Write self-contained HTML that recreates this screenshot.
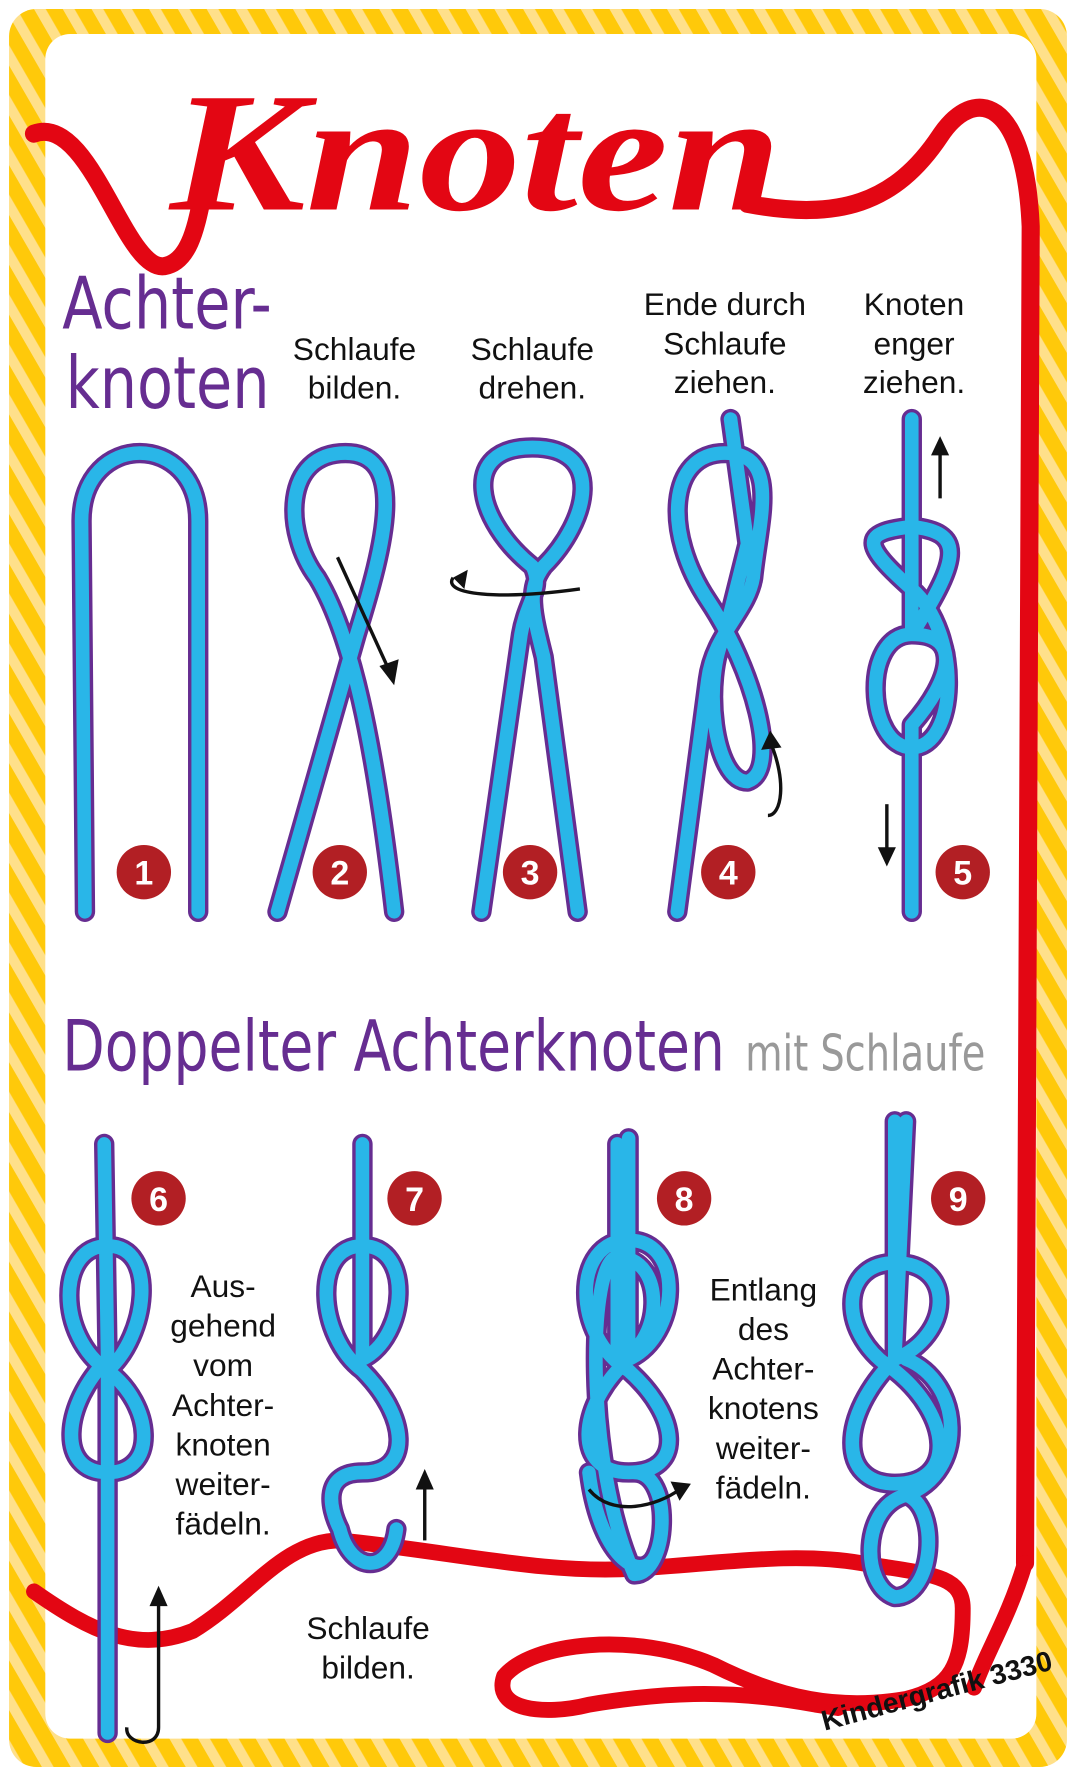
<!DOCTYPE html>
<html><head><meta charset="utf-8"><style>
html,body{margin:0;padding:0;background:#fff}
svg{display:block}
.t{font-family:"Liberation Sans",sans-serif;font-size:28px;fill:#111;text-anchor:middle}
.h{font-family:"DejaVu Sans Condensed","Liberation Sans Narrow",sans-serif;fill:#662d91}
.n{font-family:"Liberation Sans",sans-serif;font-weight:bold;font-size:30px;fill:#fff;text-anchor:middle}
</style></head><body>
<svg width="1076" height="1776" viewBox="0 0 950 1568" preserveAspectRatio="none" xmlns="http://www.w3.org/2000/svg">
<defs>
<pattern id="st" width="22" height="22" patternUnits="userSpaceOnUse" patternTransform="rotate(-30)">
<rect width="22" height="22" fill="#ffc90a"/><rect width="9" height="22" fill="#ffe08a"/>
</pattern>
<g id="ropes">
<path d="M75,805 L72,460 C72,380 175,380 175,460 L175,805"/>
<path d="M245,805 L315,560 C340,480 360,400 305,400 C250,400 250,470 280,510 C310,560 330,650 348,805"/>
<path d="M425,805 L460,560 C465,530 480,520 470,500 C420,460 405,395 470,395 C535,395 520,460 480,500 C465,520 470,540 480,580 L510,805"/>
<path d="M598,805 L625,600 C630,560 660,540 665,510 C670,460 690,400 640,400 C590,400 585,470 625,530 C665,590 690,680 660,690 C630,690 620,600 640,560 L660,480 L645,370"/>
<path d="M805,805 L805,640 C840,600 850,560 805,560 C760,560 765,660 805,660 C845,660 850,560 805,520 C760,480 760,470 805,465 C850,470 850,490 805,560 L805,370"/>
<path d="M95,1530 L95,1210 C130,1180 140,1100 95,1100 C50,1100 50,1180 95,1210 C135,1240 140,1300 95,1300 C50,1300 55,1240 95,1200 L92,1010"/>
<path d="M320,1010 L320,1200 C360,1180 365,1100 320,1100 C275,1100 280,1180 320,1210 C360,1250 365,1300 320,1300 C285,1300 290,1330 300,1350 C310,1390 345,1390 350,1350"/>
<path d="M555,1005 L555,1200 C600,1180 605,1095 555,1095 C505,1095 505,1180 555,1210 C600,1250 605,1300 555,1300 C505,1300 510,1240 555,1200 M545,1010 L545,1200 C585,1190 590,1110 545,1110 C520,1110 515,1290 560,1390 C590,1390 595,1300 560,1300 M520,1300 C530,1380 570,1400 580,1370"/>
<path d="M790,990 L790,1200 C840,1180 845,1115 790,1115 C740,1115 740,1180 790,1210 C840,1250 845,1310 790,1310 C740,1310 740,1250 790,1200 L800,990 M800,1200 C850,1220 855,1300 800,1320 C760,1330 760,1400 790,1410 C825,1410 830,1330 800,1320"/>
</g>
</defs>
<rect x="8" y="8" width="934" height="1552" rx="24" fill="url(#st)"/>
<rect x="40" y="30" width="875" height="1505" rx="22" fill="#fff"/>

<g fill="none" stroke="#e30613" stroke-linecap="round" stroke-linejoin="round">
<path stroke-width="16" d="M30,118 C80,100 110,240 145,235 C175,230 175,175 185,150"/>
<path stroke-width="16" d="M660,180 C740,195 790,180 830,120 C860,75 905,85 910,200 L905,1380"/>
<path stroke-width="14" d="M30,1405 C80,1440 120,1460 170,1440 C220,1410 250,1360 300,1360 C400,1370 480,1390 560,1385 C640,1380 700,1370 760,1380 C820,1390 850,1390 850,1420 C850,1470 840,1490 800,1500 C740,1510 690,1500 630,1470 C560,1440 470,1450 445,1480 C435,1510 480,1515 520,1505 C580,1495 640,1490 720,1505 L740,1508 M905,1380 C890,1430 870,1460 860,1490"/>
</g>
<text x="150" y="185" font-family="Liberation Serif,serif" font-style="italic" font-weight="bold" font-size="150" fill="#e30613" textLength="540" lengthAdjust="spacingAndGlyphs">Knoten</text>

<text class="h" x="55" y="290" font-size="64" textLength="185" lengthAdjust="spacingAndGlyphs">Achter-</text>
<text class="h" x="58" y="360" font-size="64" textLength="180" lengthAdjust="spacingAndGlyphs">knoten</text>
<text class="t" x="313" y="318">Schlaufe</text><text class="t" x="313" y="352">bilden.</text>
<text class="t" x="470" y="318">Schlaufe</text><text class="t" x="470" y="352">drehen.</text>
<text class="t" x="640" y="278">Ende durch</text><text class="t" x="640" y="313">Schlaufe</text><text class="t" x="640" y="347">ziehen.</text>
<text class="t" x="807" y="278">Knoten</text><text class="t" x="807" y="313">enger</text><text class="t" x="807" y="347">ziehen.</text>

<text class="h" x="55" y="945" font-size="62" textLength="585" lengthAdjust="spacingAndGlyphs">Doppelter Achterknoten</text>
<text x="658" y="945" font-family="DejaVu Sans Condensed,sans-serif" font-size="44" fill="#999" textLength="212" lengthAdjust="spacingAndGlyphs">mit Schlaufe</text>

<text class="t" x="197" y="1145">Aus-</text><text class="t" x="197" y="1180">gehend</text><text class="t" x="197" y="1215">vom</text><text class="t" x="197" y="1250">Achter-</text><text class="t" x="197" y="1285">knoten</text><text class="t" x="197" y="1320">weiter-</text><text class="t" x="197" y="1355">fädeln.</text>
<text class="t" x="325" y="1447">Schlaufe</text><text class="t" x="325" y="1482">bilden.</text>
<text class="t" x="674" y="1148">Entlang</text><text class="t" x="674" y="1183">des</text><text class="t" x="674" y="1218">Achter-</text><text class="t" x="674" y="1253">knotens</text><text class="t" x="674" y="1288">weiter-</text><text class="t" x="674" y="1323">fädeln.</text>
<text x="728" y="1528" transform="rotate(-15 728 1528)" font-family="Liberation Sans,sans-serif" font-weight="bold" font-size="25" fill="#111">Kindergrafik 3330</text>

<g fill="none" stroke-linecap="round" stroke-linejoin="round">
<use href="#ropes" stroke="#662d91" stroke-width="18"/>
<use href="#ropes" stroke="#29b6e8" stroke-width="12"/>
</g>

<g stroke="#111" stroke-width="3" fill="none">
<path d="M298,492 L345,595"/><path d="M400,510 C390,525 440,530 512,520"/>
<path d="M678,720 C690,720 695,690 680,655"/><path d="M830,440 L830,390"/><path d="M783,710 L783,755"/>
<path d="M140,1405 L140,1525 C140,1545 110,1540 112,1525"/><path d="M375,1360 L375,1305"/>
<path d="M520,1315 C540,1340 580,1330 600,1315"/>
</g>
<g fill="#111">
<polygon points="348,605 335,588 352,582"/><polygon points="400,510 413,503 410,520"/>
<polygon points="680,645 672,662 690,660"/><polygon points="830,385 822,402 838,402"/>
<polygon points="783,765 775,748 791,748"/><polygon points="140,1400 132,1418 148,1418"/>
<polygon points="375,1297 367,1315 383,1315"/><polygon points="610,1310 592,1308 600,1325"/>
</g>

<g fill="#b21f24">
<circle cx="127" cy="770" r="24"/><circle cx="300" cy="770" r="24"/><circle cx="468" cy="770" r="24"/><circle cx="643" cy="770" r="24"/><circle cx="850" cy="770" r="24"/>
<circle cx="140" cy="1058" r="24"/><circle cx="366" cy="1058" r="24"/><circle cx="604" cy="1058" r="24"/><circle cx="846" cy="1058" r="24"/>
</g>
<text class="n" x="127" y="781">1</text><text class="n" x="300" y="781">2</text><text class="n" x="468" y="781">3</text><text class="n" x="643" y="781">4</text><text class="n" x="850" y="781">5</text>
<text class="n" x="140" y="1069">6</text><text class="n" x="366" y="1069">7</text><text class="n" x="604" y="1069">8</text><text class="n" x="846" y="1069">9</text>
</svg>
</body></html>
